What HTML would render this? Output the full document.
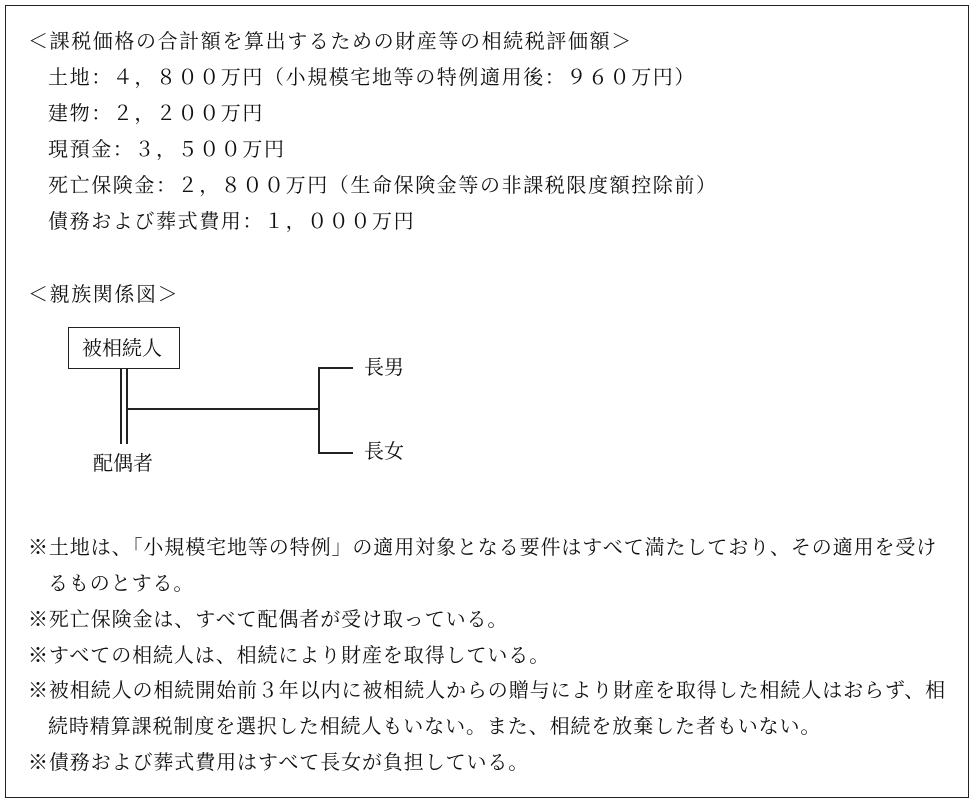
<!DOCTYPE html>
<html><head><meta charset="utf-8"><style>
body{margin:0;width:975px;height:805px;background:#fff;position:relative;overflow:hidden;font-family:"Liberation Serif","Noto Serif CJK SC","Noto Sans CJK JP",serif;color:#111}
.b{position:absolute;left:5px;top:5px;width:962px;height:791px;border:1.5px solid #222}
.t{position:absolute;font-size:20px;line-height:24px;white-space:nowrap;letter-spacing:1.3px}
.l{position:absolute;background:#222}
</style></head><body>
<div class="b"></div>
<div class="t" style="left:28px;top:30px;letter-spacing:1.6px">＜課税価格の合計額を算出するための財産等の相続税評価額＞</div>
<div class="t" style="left:48px;top:66px;letter-spacing:1.6px">土地：４，８００万円（小規模宅地等の特例適用後：９６０万円）</div>
<div class="t" style="left:48px;top:102px;letter-spacing:1.6px">建物：２，２００万円</div>
<div class="t" style="left:48px;top:138px;letter-spacing:1.6px">現預金：３，５００万円</div>
<div class="t" style="left:48px;top:174px;letter-spacing:1.6px">死亡保険金：２，８００万円（生命保険金等の非課税限度額控除前）</div>
<div class="t" style="left:48px;top:210px;letter-spacing:1.6px">債務および葬式費用：１，０００万円</div>
<div class="t" style="left:28px;top:283px;letter-spacing:1.6px">＜親族関係図＞</div>
<div style="position:absolute;left:68px;top:327px;width:110px;height:40px;border:1.5px solid #222"></div>
<div class="t" style="left:82px;top:337px;letter-spacing:0">被相続人</div>
<div class="l" style="left:120px;top:369px;width:1.5px;height:75px"></div>
<div class="l" style="left:126px;top:369px;width:1.5px;height:75px"></div>
<div class="l" style="left:127px;top:408px;width:192px;height:1.5px"></div>
<div class="l" style="left:318px;top:368px;width:1.5px;height:85px"></div>
<div class="l" style="left:318px;top:367px;width:35px;height:1.5px"></div>
<div class="l" style="left:318px;top:452px;width:35px;height:1.5px"></div>
<div class="t" style="left:364px;top:356px;letter-spacing:0">長男</div>
<div class="t" style="left:364px;top:440px;letter-spacing:0">長女</div>
<div class="t" style="left:93px;top:452px;letter-spacing:0">配偶者</div>
<div class="t" style="left:28px;top:536px;letter-spacing:0.9px">※土地は、「小規模宅地等の特例」の適用対象となる要件はすべて満たしており、その適用を受け</div>
<div class="t" style="left:48px;top:572px;letter-spacing:0.9px">るものとする。</div>
<div class="t" style="left:28px;top:608px;letter-spacing:0.9px">※死亡保険金は、すべて配偶者が受け取っている。</div>
<div class="t" style="left:28px;top:644px;letter-spacing:0.9px">※すべての相続人は、相続により財産を取得している。</div>
<div class="t" style="left:28px;top:679px;letter-spacing:0.9px">※被相続人の相続開始前３年以内に被相続人からの贈与により財産を取得した相続人はおらず、相</div>
<div class="t" style="left:48px;top:715px;letter-spacing:0.9px">続時精算課税制度を選択した相続人もいない。また、相続を放棄した者もいない。</div>
<div class="t" style="left:28px;top:751px;letter-spacing:0.9px">※債務および葬式費用はすべて長女が負担している。</div>
</body></html>
